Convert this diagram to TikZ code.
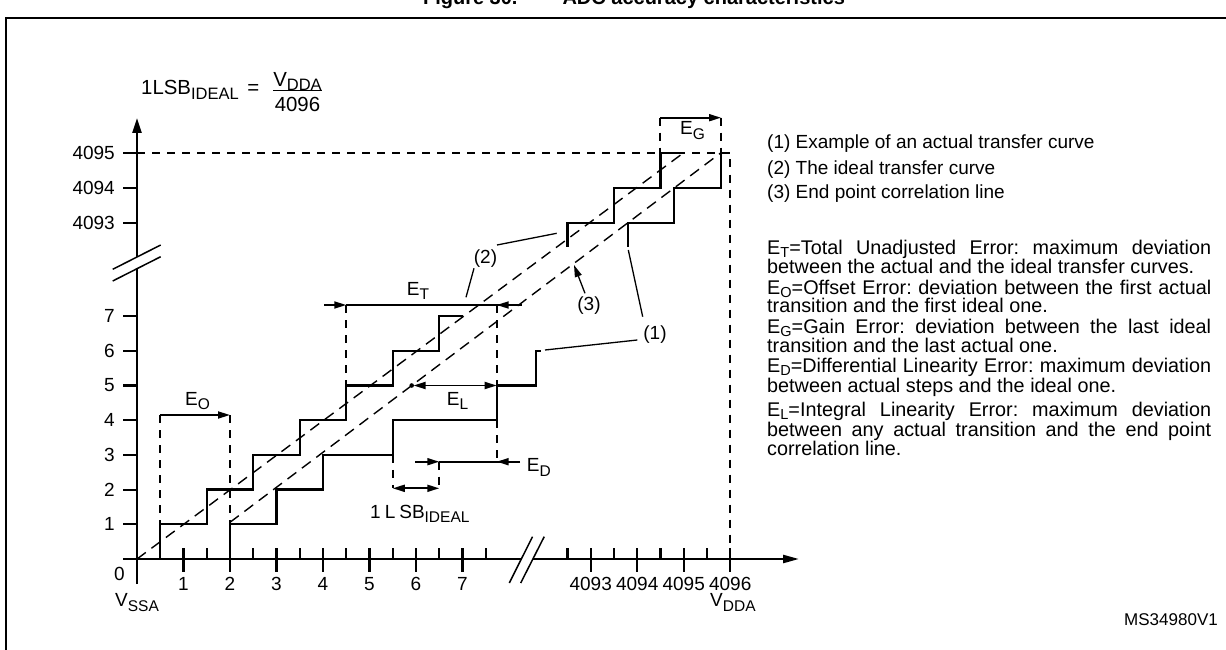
\documentclass[tikz,border=0pt]{standalone}
\usepackage{fontspec}
\setmainfont{Liberation Sans}
\usetikzlibrary{arrows.meta}
\newcommand\sbs[1]{\raisebox{-4.5pt}{\fontsize{15.5}{15.5}\selectfont #1}}
\newcommand\dsbs[1]{\raisebox{-3pt}{\fontsize{14.5}{14.5}\selectfont #1}}
\newcommand\jline[1]{\makebox[444pt][s]{#1}}
\frenchspacing
\begin{document}
\begin{tikzpicture}[x=1pt,y=-1pt,
  every node/.style={inner sep=0pt,font=\fontsize{19}{19}\selectfont},
  axisln/.style={line width=2.4pt},
  stair/.style={line width=2.3pt},
  diag/.style={line width=1.4pt,dash pattern=on 11pt off 7pt},
  guide/.style={line width=2pt,dash pattern=on 8pt off 7pt},
  meas/.style={line width=1.8pt},
  lead/.style={line width=1.3pt},
  tipr/.style={-{Triangle[length=12pt,width=7pt]}},
  tipb/.style={{Triangle[length=12pt,width=7pt]}-{Triangle[length=12pt,width=7pt]}},
  deftext/.style={anchor=base west,align=left,font=\fontsize{19.8}{15.8}\selectfont}]
\useasboundingbox (0,0) rectangle (1226,650);
% frame and title
\node[anchor=base,font=\fontsize{20}{20}\selectfont\bfseries] (title) at (634,5) {Figure 30.\hspace{45pt}ADC accuracy characteristics};
\draw[line width=2.5pt] (6,652) -- (6,18) -- (1230,18);
% axes
\coordinate (o) at (137,559);
\draw[axisln] (137,584) -- (137,268.7);
\draw[axisln,-{Triangle[length=15pt,width=9pt]}] (137,257) -- (137,118);
\draw[lead,line width=1.5pt] (112.7,269.3) -- (160.7,245);
\draw[lead,line width=1.5pt] (112.7,281) -- (160.7,256.7);
\draw[axisln] (123,559) -- (521.3,559);
\draw[axisln,-{Triangle[length=16pt,width=8pt]}] (532.7,559) -- (799,559);
\draw[lead,line width=1.5pt] (509.3,583) -- (532.5,536.7);
\draw[lead,line width=1.5pt] (520.7,583) -- (544.2,536.7);
% ticks
\foreach \n in {1,...,7} \draw[axisln,line width=2.2pt] ({137+46.5*\n},548) -- ({137+46.5*\n},572);
\foreach \n in {0.5,1.5,...,7.5} \draw[axisln,line width=2.2pt] ({137+46.5*\n},548) -- ({137+46.5*\n},559);
\foreach \n in {0,...,3} {
  \draw[axisln,line width=2.2pt] ({590.7+46.5*\n},548) -- ({590.7+46.5*\n},572);
  \draw[axisln,line width=2.2pt] ({567.45+46.5*\n},548) -- ({567.45+46.5*\n},559);}
\foreach \k in {1,...,7} {
  \draw[axisln,line width=2.2pt] (123,{559-34.7*\k}) -- (137,{559-34.7*\k});
  \node[anchor=east] (yl\k) at (115,{559-34.7*\k}) {\k};}
\foreach \v/\y in {4093/222.7,4094/187.7,4095/152.7} {
  \draw[axisln,line width=2.2pt] (123,\y) -- (137,\y);
  \node[anchor=east] (yl\v) at (115,\y) {\v};}
% axis labels
\foreach \n in {1,...,7} \node[anchor=base] (xl\n) at ({137+46.5*\n},590) {\n};
\foreach \n/\v in {0/4093,1/4094,2/4095,3/4096} \node[anchor=base] (xl\v) at ({590.7+46.5*\n},590) {\v};
\node[anchor=base west] (zero) at (114,580) {0};
\node[anchor=base west] (vssa) at (115,606.7) {V\sbs{SSA}};
\node[anchor=base west] (vdda) at (710,606.7) {V\sbs{DDA}};
% formula
\node[anchor=base west,font=\fontsize{20.4}{20.4}\selectfont] (lsb) at (141,95) {1LSB\raisebox{-5pt}{\fontsize{16.5}{16.5}\selectfont IDEAL}\hspace{3pt} =};
\node[anchor=base,font=\fontsize{20.4}{20.4}\selectfont] (num) at (297.5,86.7) {V\raisebox{-3.5pt}{\fontsize{16.5}{16.5}\selectfont DDA}};
\node[anchor=base,font=\fontsize{20.4}{20.4}\selectfont] (den) at (297.5,111.7) {4096};
\draw[line width=1.3pt] (273,90.7) -- (322,90.7);
% guide dashed lines
\draw[guide] (137,152.7) -- (730.2,152.7) -- (730.2,559);
\draw[guide] (160.25,415) -- (160.25,524.3);
\draw[guide] (230,415) -- (230,524.3);
\draw[guide] (346.25,305) -- (346.25,385.5);
\draw[guide] (496.7,305) -- (496.7,385.5);
\draw[guide] (496.7,420.2) -- (496.7,461.7);
\draw[guide] (392.75,454.9) -- (392.75,488.3);
\draw[guide] (439.25,461.7) -- (439.25,488.3);
\draw[guide] (660.45,117.7) -- (660.45,152.7);
\draw[guide] (721,117.7) -- (721,152.7);
% diagonals
\draw[diag] (137,559) -- (683.7,152.7);
\draw[diag] (230,522.3) -- (721,152.7);
% ideal staircase (upper-left)
\draw[stair] (160.25,559) -- (160.25,524.3) -- (206.75,524.3) -- (206.75,489.6) -- (253.25,489.6) -- (253.25,454.9) -- (299.75,454.9) -- (299.75,420.2) -- (346.25,420.2) -- (346.25,385.5) -- (392.75,385.5) -- (392.75,350.8) -- (439.25,350.8) -- (439.25,316.1) -- (463,316.1);
\draw[stair] (567.45,246.7) -- (567.45,222.7) -- (613.95,222.7) -- (613.95,187.7) -- (660.45,187.7) -- (660.45,152.7) -- (683.7,152.7);
% actual staircase
\draw[stair] (230,559) -- (230,524.3) -- (276.5,524.3) -- (276.5,489.6) -- (323,489.6) -- (323,454.9) -- (392.75,454.9) -- (392.75,420.2) -- (496.7,420.2) -- (496.7,385.5) -- (536,385.5) -- (536,350.8) -- (541,350.8);
\draw[stair] (627.7,246.7) -- (627.7,222.7) -- (674,222.7) -- (674,187.7) -- (721,187.7) -- (721,152.7);
% measurements
\draw[meas,tipr] (160.25,415) -- (230,415);
\node[anchor=base west] (eo) at (185,405) {E\sbs{O}};
\draw[meas,tipr] (324,305) -- (346.25,305);
\draw[meas] (346.25,305) -- (521.7,305);
\draw[meas,tipr] (521.7,305) -- (496.7,305);
\node[anchor=base west] (et) at (406.7,295) {E\sbs{T}};
\fill (411.7,385.5) circle (2.3pt);
\draw[meas,tipb] (413.5,385.5) -- (496.7,385.5);
\node[anchor=base west] (el) at (446.7,405) {E\sbs{L}};
\draw[meas,tipr] (415,461.7) -- (439.25,461.7);
\draw[meas] (439.25,461.7) -- (520,461.7);
\draw[meas,tipr] (520,461.7) -- (496.7,461.7);
\node[anchor=base west] (ed) at (526.7,471.7) {E\sbs{D}};
\draw[meas,tipb] (392.75,488.3) -- (439.25,488.3);
\node[anchor=base west] (one) at (370,518.3) {1\hspace{4pt}L\hspace{4pt}SB\sbs{IDEAL}};
\draw[meas,tipr] (660.45,117.7) -- (721,117.7);
\node[anchor=base west] (eg) at (680,135) {E\sbs{G}};
% leaders
\node (c2) at (485.5,259) {(2)};
\coordinate (c2a) at (556.7,233.3);
\coordinate (c2b) at (466,297.3);
\draw[lead] (497,245) -- (c2a);
\draw[lead] (474,268.3) -- (c2b);
\node (c3) at (589,306) {(3)};
\coordinate (c3a) at (574,265);
\draw[lead,tipr] (585,293.3) -- (c3a);
\node (c1) at (655,335) {(1)};
\coordinate (c1a) at (628.3,250);
\coordinate (c1b) at (545,350);
\draw[lead] (642.7,316.7) -- (c1a);
\draw[lead] (637.3,340) -- (c1b);
% legend
\node[anchor=base west] (lg1) at (767,148.3) {(1) Example of an actual transfer curve};
\node[anchor=base west] (lg2) at (767,174) {(2) The ideal transfer curve};
\node[anchor=base west] (lg3) at (767,198.3) {(3) End point correlation line};
% definitions (one text block; base = last line)
\node[deftext] (defs) at (767,455.5) {\jline{E\dsbs{T}=Total Unadjusted Error: maximum deviation}\\
between the actual and the ideal transfer curves.\\[4.9pt]
\jline{E\dsbs{O}=Offset Error: deviation between the first actual}\\
transition and the first ideal one.\\[4.9pt]
\jline{E\dsbs{G}=Gain Error: deviation between the last ideal}\\
transition and the last actual one.\\[4.9pt]
\jline{E\dsbs{D}=Differential Linearity Error: maximum deviation}\\
between actual steps and the ideal one.\\[4.9pt]
\jline{E\dsbs{L}=Integral Linearity Error: maximum deviation}\\
\jline{between any actual transition and the end point}\\
correlation line.};
\node[anchor=base east,font=\fontsize{17}{17}\selectfont] (ms) at (1218,625) {MS34980V1};
\end{tikzpicture}
\end{document}
